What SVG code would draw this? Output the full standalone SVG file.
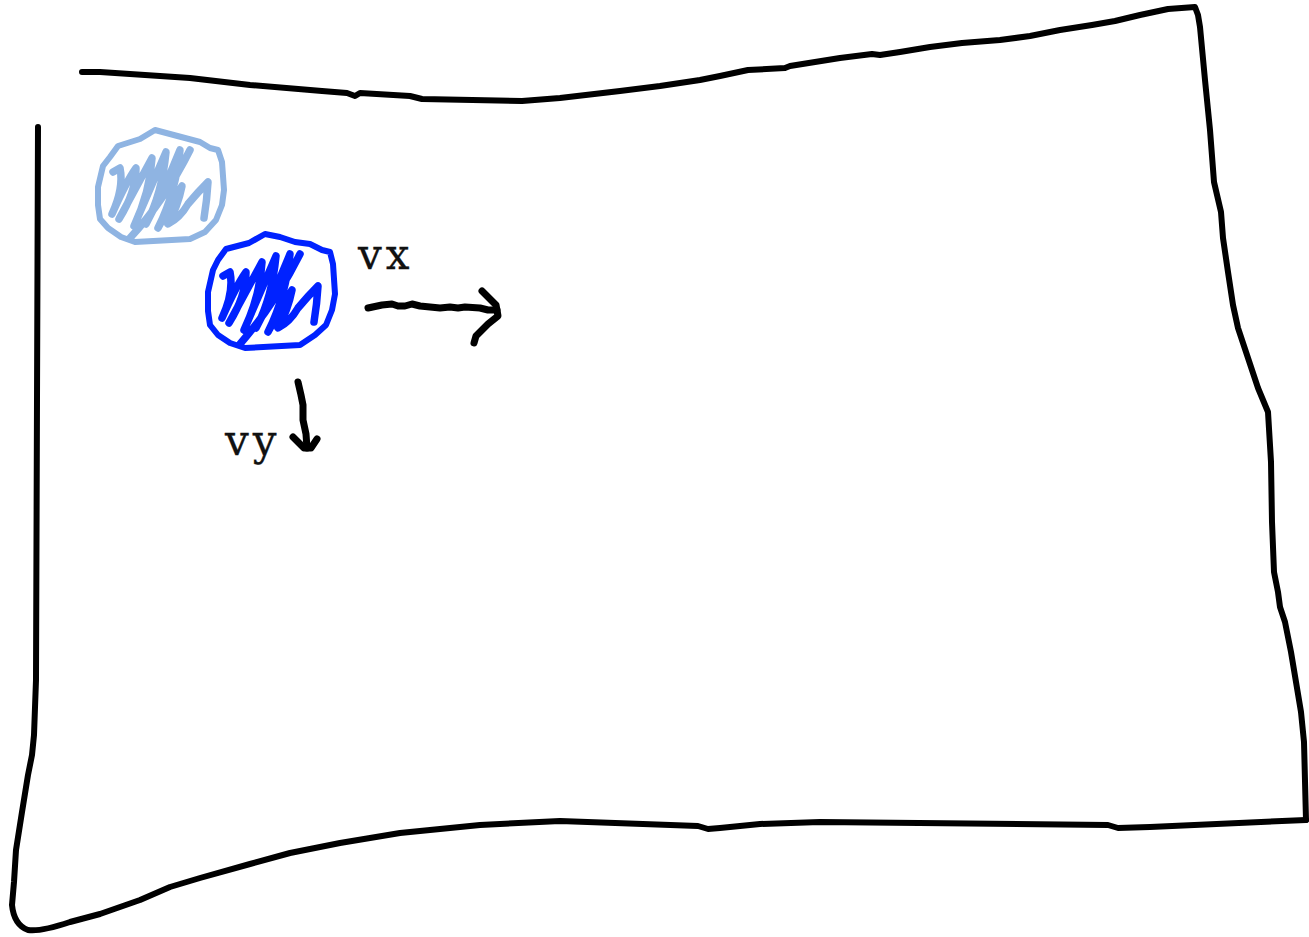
<svg xmlns="http://www.w3.org/2000/svg" width="1309" height="937" viewBox="0 0 1309 937">
<style>
.ink{fill:none;stroke:#000;stroke-width:6;stroke-linecap:round;stroke-linejoin:round}
.arw{fill:none;stroke:#000;stroke-width:7;stroke-linecap:round;stroke-linejoin:round}
.blob{fill:none;stroke-width:6;stroke-linecap:round;stroke-linejoin:round}
.scr{fill:none;stroke-width:7.5;stroke-linecap:round;stroke-linejoin:round}
.lbl{font-family:"DejaVu Serif","Liberation Serif",serif;font-size:42px;letter-spacing:4px;fill:#111;stroke:#111;stroke-width:0.3}
</style>
<rect width="1309" height="937" fill="#fff"/>
<g id="frame">
<path class="ink" d="M38,127 L37,400 L36,680 L34,735 L32,755 L28,775 L22,812 L16,850 L14,882 L12,905 Q14,925 28,930 Q40,932 70,922 L100,914 L140,900 L170,887 L200,878 L250,864 L290,853 L340,843 L400,833 L480,825 L560,821 L698,826 L708,829 L720,828 L760,824 L820,822 L1108,825 L1118,828 L1150,827 L1306,820"/>
<path class="ink" d="M1306,820 L1304,742 L1301,712 L1291,652 L1285,622 L1280,607 L1278,592 L1274,572 L1272,522 L1271,462 L1268,412 L1258,388 L1246,352 L1238,328 L1233,305 L1228,272 L1223,238 L1221,212 L1214,182 L1210,130 L1205,80 L1200,27 L1198,15 L1195,7 L1168,9 L1140,15 L1115,21 L1092,25 L1060,30 L1030,36 L1000,40 L962,43 L930,47 L900,52 L880,55 L872,54 L840,58 L790,66 L785,68 L748,70 L720,76 L700,80 L660,86 L620,91 L560,98 L522,101 L422,99 L410,96 L360,93 L355,96 L347,93 L322,91 L250,85 L190,78 L130,74 L100,72 L82,72"/>
</g>
<g id="ghost-ball">
<path class="blob" stroke="#8fb4e2" d="M110,157 L118,146 L140,139 L155,130 L170,134 L185,138 L200,142 L210,148 L218,150 L222,162 L224,190 L222,205 L216,220 L205,232 L190,239 L135,242 L121,237 L108,228 L100,219 L98,205 L98,187 L103,166 Z"/>
<path class="scr" stroke="#8fb4e2" d="M113,172 L120,168 Q124,188 112,214 Q126,182 136,168 Q136,192 119,219 Q140,180 152,158 Q150,192 134,226 Q152,184 166,152 Q162,194 146,224 Q164,190 180,150 Q176,192 158,228 Q172,202 182,186 Q178,206 168,224 Q180,218 188,204 Q198,192 208,182 Q207,200 204,218 M190,150 Q165,200 130,238"/>
</g>
<g id="ball">
<path class="blob" stroke="#0022ff" d="M218,260 L226,249 L249,243 L265,234 L280,237 L295,242 L310,244 L322,250 L330,252 L333,264 L335,294 L332,310 L326,325 L315,335 L300,345 L245,348 L230,343 L218,335 L210,325 L208,311 L208,292 L213,270 Z"/>
<path class="scr" stroke="#0022ff" d="M223,276 L230,272 Q234,292 222,318 Q236,286 246,272 Q246,296 229,323 Q250,284 262,262 Q260,296 244,330 Q262,288 276,256 Q272,298 256,328 Q274,294 290,254 Q286,296 268,332 Q282,306 292,290 Q288,310 278,328 Q290,322 298,308 Q308,296 318,286 Q317,304 314,322 M300,254 Q275,304 240,344"/>
</g>
<g id="labels">
<text class="lbl" x="358" y="269">vx</text>
<text class="lbl" x="225" y="455">vy</text>
</g>
<g id="connectors">
<path class="arw" d="M368,308 L382,305 L392,304 L398,306 L405,306 L412,304 L420,306 L440,308 L450,307 L458,308 L465,307 L480,308 L488,310 L497,310"/>
<path class="arw" d="M482,291 L496,305 L498,316 L488,324 L476,336 L474,343"/>
<path class="arw" d="M298,382 L301,395 L303,405 L303,420 L306,434 L307,448"/>
<path class="arw" d="M293,437 L304,448 L311,448 L317,439"/>
</g>
</svg>
